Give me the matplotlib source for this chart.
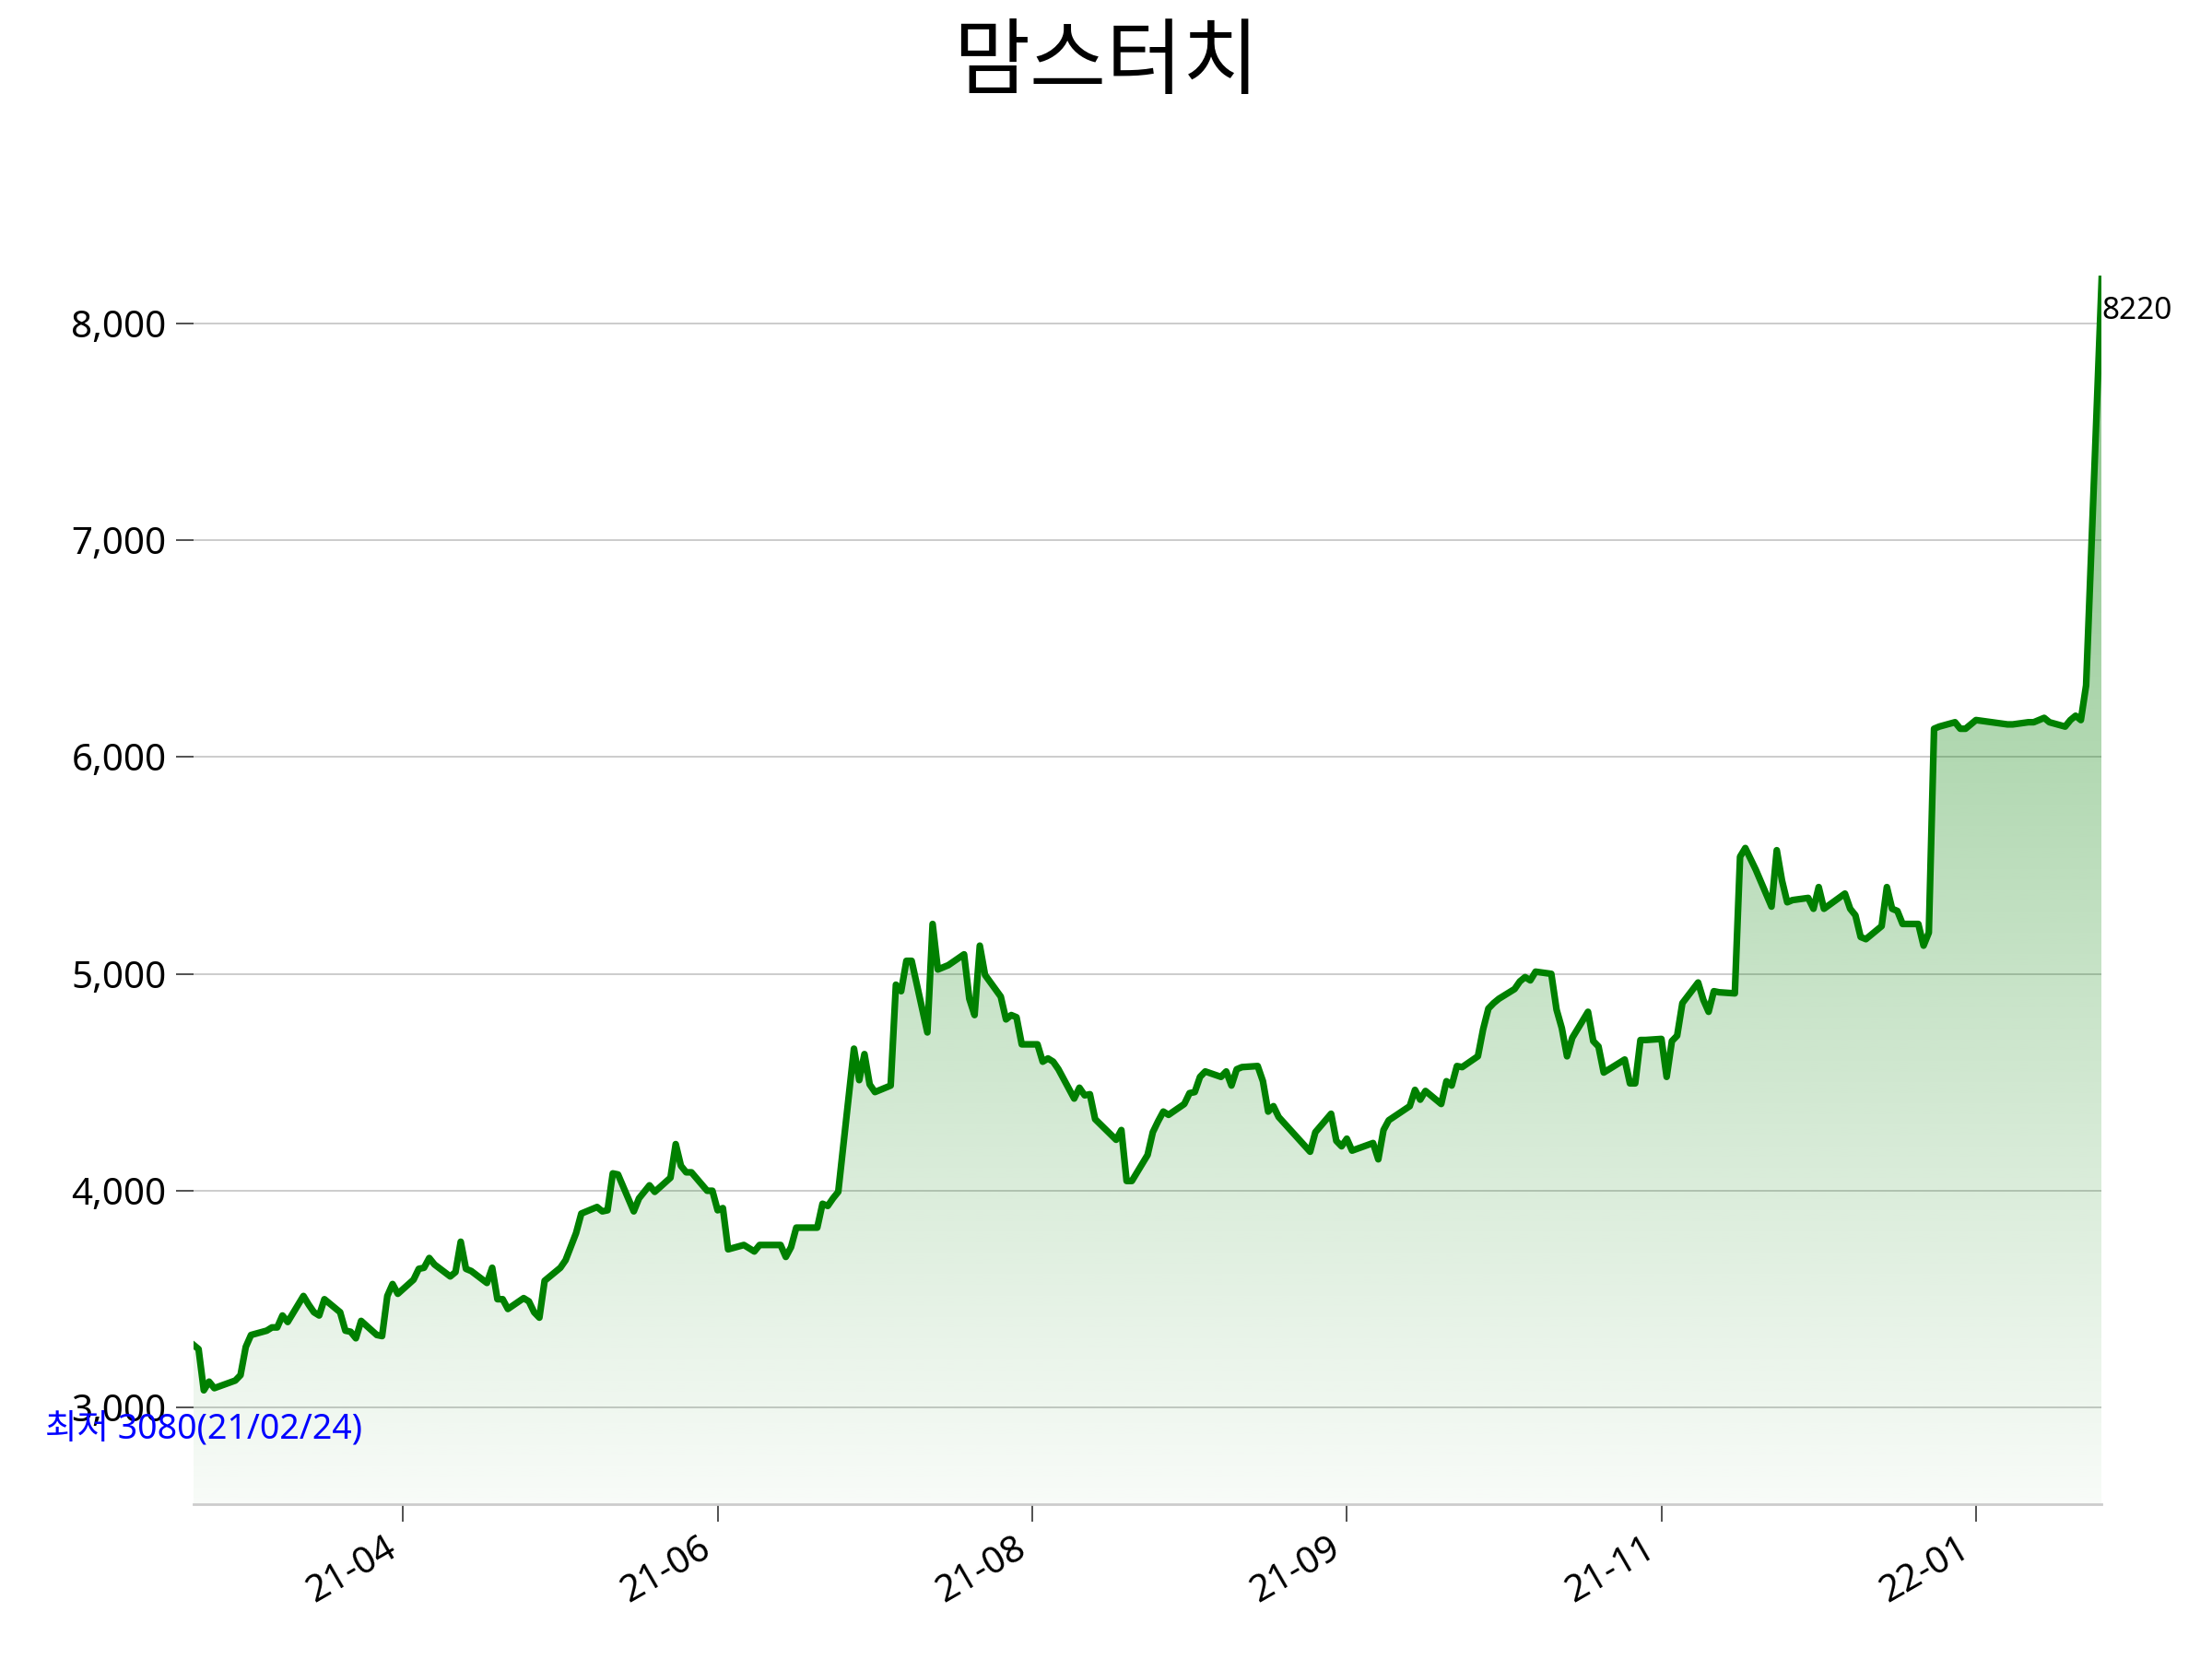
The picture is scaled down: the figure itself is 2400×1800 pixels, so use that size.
import matplotlib

matplotlib.use("Agg")
import matplotlib.dates as mdates
import matplotlib.pyplot as plt
import matplotlib.ticker as ticker
import numpy as np
import pandas as pd
from matplotlib.patches import PathPatch

plt.rcParams["font.family"] = ["Noto Sans", "Noto Sans CJK KR", "DejaVu Sans"]

TITLE = "맘스터치"

# KRX trading calendar for the period shown
START, END = "2021-02-22", "2022-02-21"
HOLIDAYS = [
    "2021-03-01", "2021-05-05", "2021-05-19", "2021-08-16",
    "2021-09-20", "2021-09-21", "2021-09-22", "2021-10-04",
    "2021-10-11", "2021-12-31", "2022-01-31", "2022-02-01", "2022-02-02",
]

# daily close, one row per week
PRICES = [
    3290, 3270, 3080, 3120, 3090,
    3125, 3150, 3280, 3335,
    3355, 3370, 3370, 3425, 3395,
    3515, 3475, 3440, 3425, 3500,
    3440, 3355, 3350, 3320, 3400,
    3335, 3330, 3515, 3570, 3525,
    3590, 3640, 3645, 3690, 3660,
    3605, 3625, 3765, 3640, 3630,
    3575, 3645, 3500, 3500, 3455,
    3505, 3490, 3440, 3415, 3585,
    3645, 3680, 3805, 3895,
    3925, 3905, 3910, 4080, 4075,
    3905, 3965, 4025, 3995,
    4060, 4215, 4115, 4085, 4085,
    4000, 4000, 3910, 3920, 3730,
    3750, 3735, 3720, 3750, 3750,
    3750, 3695, 3740, 3830, 3830,
    3830, 3940, 3930, 3965, 3995,
    4655, 4510, 4630, 4490, 4455,
    4485, 4950, 4920, 5060, 5060,
    4730, 5230, 5020, 5030, 5040,
    5090, 4885, 4810, 5130, 4995,
    4895, 4790, 4810, 4800, 4675,
    4675, 4595, 4610, 4595, 4560,
    4425, 4475, 4440, 4445, 4330,
    4235, 4280, 4045, 4045,
    4165, 4270, 4320, 4365, 4350,
    4400, 4450, 4455, 4525, 4550,
    4525, 4550, 4485, 4560, 4570,
    4575, 4505, 4365, 4390, 4340,
    4180, 4270,
    4355, 4230, 4205, 4240, 4185,
    4220, 4145, 4280, 4325,
    4390, 4465, 4420, 4460,
    4400, 4505, 4485, 4575, 4570,
    4620, 4745, 4840, 4865, 4885,
    4930, 4965, 4985, 4970, 5010,
    5000, 4835, 4750, 4620, 4705,
    4825, 4690, 4665, 4545, 4560,
    4605, 4495, 4495, 4695, 4695,
    4700, 4525, 4690, 4715, 4865,
    4960, 4880, 4825, 4920, 4915,
    4910, 5540, 5580, 5530, 5480,
    5310, 5570, 5430, 5330, 5340,
    5350, 5300, 5400, 5300,
    5370, 5300, 5270, 5170, 5160,
    5220, 5400, 5300, 5290, 5230,
    5230, 5130, 5190, 6130, 6140,
    6160, 6130, 6130, 6150, 6170,
    6150, 6150,
    6160, 6160, 6170, 6180, 6160,
    6140, 6170, 6190, 6170, 6330,
    8220,
]


def main() -> None:
    dates = pd.bdate_range(START, END)
    dates = dates[~dates.isin(pd.to_datetime(HOLIDAYS))]
    prices = np.array(PRICES, dtype=float)
    assert len(dates) == len(prices), (len(dates), len(prices))
    xnum = mdates.date2num(dates.to_pydatetime())

    i_min = int(np.argmin(prices))
    i_max = int(np.argmax(prices))
    ymin, ymax = prices.min() * 0.83, prices.max()

    fig = plt.figure(figsize=(12, 9), dpi=200)
    ax = fig.add_axes([0.0874, 0.0935, 0.8628, 0.7405])

    # vertical green gradient clipped to the area under the line
    grad = np.linspace(0, 1, 256).reshape(-1, 1)
    rgba = np.zeros((256, 1, 4))
    rgba[..., 1] = 128 / 255
    rgba[..., 3] = 0.03 + 0.45 * grad
    im = ax.imshow(rgba, extent=[xnum[0], xnum[-1], ymin, ymax], origin="lower",
                   aspect="auto", zorder=1, interpolation="bilinear")
    poly = ax.fill_between(xnum, prices, ymin, facecolor="none", edgecolor="none")
    clip = PathPatch(poly.get_paths()[0], transform=ax.transData, facecolor="none", edgecolor="none")
    ax.add_patch(clip)
    im.set_clip_path(clip)

    ax.plot(xnum, prices, color="green", linewidth=2.6, zorder=3)

    ax.set_xlim(xnum[0], xnum[-1])
    ax.set_ylim(ymin, ymax)
    ax.xaxis.set_major_locator(ticker.MultipleLocator(60))
    ax.xaxis.set_major_formatter(mdates.DateFormatter("%y-%m"))
    ax.yaxis.set_major_locator(ticker.MultipleLocator(1000))
    ax.yaxis.set_major_formatter(ticker.StrMethodFormatter("{x:,.0f}"))
    ax.tick_params(axis="both", labelsize=14.5, length=7, width=0.6, color="#333333")
    plt.setp(ax.get_xticklabels(), rotation=30, ha="right")

    ax.grid(axis="y", color="#cccccc", linewidth=0.7)
    ax.set_axisbelow(True)
    for side in ("left", "top", "right"):
        ax.spines[side].set_visible(False)
    ax.spines["bottom"].set_color("#cccccc")
    ax.spines["bottom"].set_linewidth(1.0)

    ax.text(xnum[i_max], prices[i_max] * 0.98, f"{int(prices[i_max])}",
            ha="left", va="center", fontsize=12)
    d = dates[i_min]
    ax.text(xnum[i_min], prices[i_min] * 0.94, f"최저 {int(prices[i_min])}({d:%y/%m/%d})",
            ha="center", va="center", fontsize=13.5, color="blue", zorder=5)

    fig.text(0.5, 0.960, TITLE, ha="center", va="center", fontsize=32.5)

    fig.savefig("out.png", dpi=200)
    plt.close(fig)


if __name__ == "__main__":
    main()
